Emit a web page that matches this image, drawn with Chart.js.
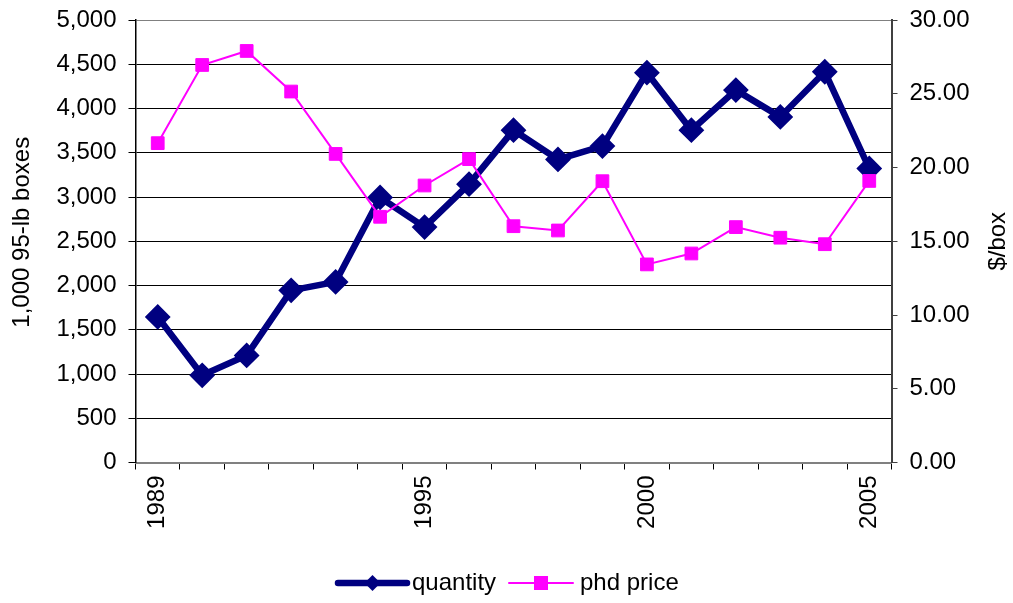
<!DOCTYPE html>
<html>
<head>
<meta charset="utf-8">
<title>quantity and phd price</title>
<script src="https://cdn.jsdelivr.net/npm/chart.js@4.4.0/dist/chart.umd.min.js"></script>
<style>
  body { margin: 0; background: #fff; }
  #wrap { width: 1013px; height: 603px; }
</style>
</head>
<body>
<div id="wrap"><canvas id="chart" width="1013" height="603"></canvas></div>
<script>
// data
const years = ["1989", "1990", "1991", "1992", "1993", "1994", "1995", "1996", "1997",
               "1998", "1999", "2000", "2001", "2002", "2003", "2004", "2005"];
const quantity = [1645, 985, 1210, 1945, 2040, 2995, 2660, 3145, 3755,
                  3425, 3575, 4405, 3755, 4208, 3905, 4415, 3322];
const phdPrice = [21.65, 26.95, 27.9, 25.15, 20.92, 16.66, 18.78, 20.57, 16.02,
                  15.73, 19.07, 13.43, 14.17, 15.96, 15.24, 14.8, 19.09];
const shownYears = ["1989", "1995", "2000", "2005"];
const leftTitle = "1,000 95-lb boxes";
const rightTitle = "$/box";

const FONT = 'Arial, "Liberation Sans", sans-serif';
const FONT_SIZE = 24;
const NAVY = "#000080";
const MAGENTA = "#FF00FF";

// both axis titles read bottom to top in the original, chart.js turns the right one the other way
const axisTitles = {
  id: "axisTitles",
  afterDraw(chart) {
    const ctx = chart.ctx;
    const area = chart.chartArea;
    ctx.save();
    ctx.fillStyle = "#000";
    ctx.font = FONT_SIZE + "px " + FONT;
    ctx.textAlign = "center";
    ctx.textBaseline = "middle";
    [[22, area.top + (area.bottom - area.top) / 2 - 9, leftTitle],
     [998, area.top + (area.bottom - area.top) / 2, rightTitle]].forEach(([x, y, txt]) => {
      ctx.save();
      ctx.translate(x, y);
      ctx.rotate(-Math.PI / 2);
      ctx.fillText(txt, 0, 0);
      ctx.restore();
    });
    ctx.restore();
  },
};

// legend with a bit of line on each side of the marker, like the original
const lineLegend = {
  id: "lineLegend",
  afterDraw(chart) {
    const ctx = chart.ctx;
    const y = 583;
    const items = [
      { ds: chart.data.datasets[0], x0: 338, x1: 407, textX: 412 },
      { ds: chart.data.datasets[1], x0: 509, x1: 573, textX: 580 },
    ];
    ctx.save();
    items.forEach((it) => {
      const mid = (it.x0 + it.x1) / 2;
      ctx.strokeStyle = it.ds.borderColor;
      ctx.lineWidth = it.ds.borderWidth;
      ctx.lineCap = "round";
      ctx.beginPath();
      ctx.moveTo(it.x0, y);
      ctx.lineTo(it.x1, y);
      ctx.stroke();

      ctx.fillStyle = it.ds.pointBackgroundColor;
      ctx.beginPath();
      if (it.ds.pointStyle === "rectRot") {
        const r = 8;
        ctx.moveTo(mid, y - r);
        ctx.lineTo(mid + r, y);
        ctx.lineTo(mid, y + r);
        ctx.lineTo(mid - r, y);
        ctx.closePath();
      } else {
        ctx.rect(mid - 7, y - 7, 14, 14);
      }
      ctx.fill();

      ctx.fillStyle = "#000";
      ctx.font = FONT_SIZE + "px " + FONT;
      ctx.textAlign = "left";
      ctx.textBaseline = "middle";
      ctx.fillText(it.ds.label, it.textX, y);
    });
    ctx.restore();
  },
};

// fixed axis sizes so the plot sits where it does in the original
function fixWidth(w) {
  return (scale) => {
    scale.width = w;
    scale.paddingTop = 0;
    scale.paddingBottom = 0;
  };
}

new Chart(document.getElementById("chart"), {
  type: "line",
  data: {
    labels: years,
    datasets: [
      {
        label: "quantity",
        data: quantity,
        yAxisID: "y",
        borderColor: NAVY,
        backgroundColor: NAVY,
        borderWidth: 6.5,
        pointStyle: "rectRot",
        pointRadius: 11.5,
        pointBorderWidth: 2,
        pointBackgroundColor: NAVY,
        pointBorderColor: NAVY,
        tension: 0,
        order: 1,
      },
      {
        label: "phd price",
        data: phdPrice,
        yAxisID: "y2",
        borderColor: MAGENTA,
        backgroundColor: MAGENTA,
        borderWidth: 2,
        pointStyle: "rect",
        pointRadius: 9,
        pointBorderWidth: 1,
        pointBackgroundColor: MAGENTA,
        pointBorderColor: MAGENTA,
        tension: 0,
        order: 0,
      },
    ],
  },
  options: {
    responsive: false,
    animation: false,
    layout: { padding: { top: 20, left: 0, right: 0, bottom: 0 } },
    plugins: {
      legend: { display: false },
      tooltip: { enabled: false },
    },
    scales: {
      x: {
        type: "category",
        offset: true,
        afterFit: (scale) => {
          scale.height = 140.5;
          scale.paddingLeft = 0;
          scale.paddingRight = 0;
        },
        grid: {
          offset: true,
          drawOnChartArea: false,
          drawTicks: true,
          tickLength: 7,
          tickColor: "#000",
        },
        border: { color: "#808080", width: 2 },
        ticks: {
          autoSkip: false,
          minRotation: 90,
          maxRotation: 90,
          padding: 6,
          color: "#000",
          font: { family: FONT, size: FONT_SIZE },
          callback: function (value) {
            const lab = this.getLabelForValue(value);
            return shownYears.includes(lab) ? lab : "";
          },
        },
      },
      y: {
        position: "left",
        min: 0,
        max: 5000,
        afterFit: fixWidth(135.5),
        ticks: {
          stepSize: 500,
          padding: 12,
          color: "#000",
          font: { family: FONT, size: FONT_SIZE },
          callback: (v) => v.toLocaleString("en-US"),
        },
        grid: {
          color: (c) => (c.tick && (c.tick.value === 5000 || c.tick.value === 0) ? "#808080" : "#000"),
          lineWidth: 1,
          tickLength: 7,
          tickColor: "#000",
        },
        border: { color: "#000", width: 1.5 },
      },
      y2: {
        position: "right",
        min: 0,
        max: 30,
        afterFit: fixWidth(121.5),
        ticks: {
          stepSize: 5,
          padding: 12,
          color: "#000",
          font: { family: FONT, size: FONT_SIZE },
          callback: (v) => v.toFixed(2),
        },
        grid: {
          drawOnChartArea: false,
          tickLength: 6,
          tickColor: "#404040",
        },
        border: { color: "#404040", width: 2 },
      },
    },
  },
  plugins: [axisTitles, lineLegend],
});
</script>
</body>
</html>
